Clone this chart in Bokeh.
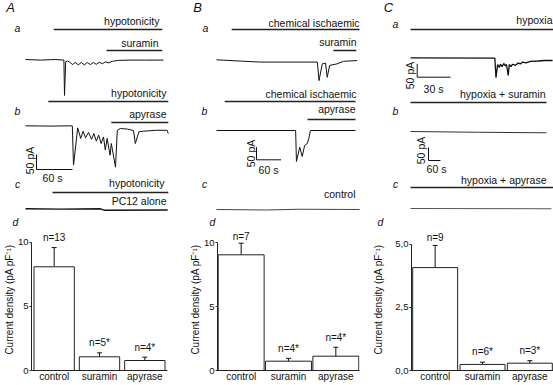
import numpy as np
from bokeh.plotting import figure
from bokeh.layouts import column, row
from bokeh.models import Range1d, FactorRange, FixedTicker, CustomJSTickFormatter
from bokeh.core.properties import value
from bokeh.embed import file_html
from bokeh.resources import INLINE

FONT = "Liberation Sans"
INK = "#111111"

# ---------------- DATA ----------------
# Whole-cell current traces: time (s) from start of trace, current (pA)
A_a_t = [0, 25, 50, 64, 65, 67, 70, 75, 78, 83, 88, 93, 98, 103, 108, 113, 118, 123, 128, 133, 138, 145, 155, 175, 200, 230]
A_a_I = [0, -2, 0, -2, -120, -7, -5, -10, -17, -10, -18, -10, -18, -10, -17, -10, -16, -9, -14, -8, -11, -6, -3, -2, -2, -2]

A_b_t = [0, 42, 78, 80, 87, 92, 96, 100, 105, 110, 114, 118, 122, 126, 130, 133, 136, 141, 143, 150, 153, 158, 170, 180, 183, 189, 197, 217, 236, 238]
A_b_I = [0, -1, 0, -131, -7, -42, -18, -40, -22, -45, -26, -51, -31, -59, -37, -81, -42, -98, -59, -138, -15, -9, -11, -16, -59, -20, -18, -15, -15, -26]

A_c_t = [0, 58, 125, 132, 237]
A_c_I = [0, -1, 0, -5, -4]

B_a_t = [0, 58, 107, 246, 250, 258, 266, 270, 276, 294, 310, 343]
B_a_I = [0, -5, -9, -9, -82, -16, -13, -69, -22, -16, -6, -3]

B_b_t = [0, 193, 195, 203, 209, 215, 221, 225, 229, 339]
B_b_I = [0, 0, -122, -66, -102, -59, -52, -33, 0, 0]

B_c_t = [0, 120, 200, 349]
B_c_I = [0, -2, 1, 0]

C_a_t = [0, 76, 77, 78.5, 80, 81, 82.5, 84, 85.5, 86.5, 88, 89, 90.5, 92, 94.5, 97, 99, 101, 104, 108, 115, 121, 128]
C_a_I = [0, -1, -74, -25, -36, -24, -33, -21, -30, -25, -66, -25, -33, -24, -28, -19, -23, -16, -19, -13, -12, -10, -10]

C_b_t = [0, 340, 680]
C_b_I = [0, -3, -5]

C_c_t = [0, 705]
C_c_I = [0, -1]

# Drug application periods (s, relative to each trace start) and labels
A_a_drugs = [("hypotonicity", 47, 228), ("suramin", 135, 228)]
A_b_drugs = [("hypotonicity", 38, 238), ("apyrase", 143, 238)]
A_c_drugs = [("hypotonicity", 45, 238)]
B_a_drugs = [("chemical ischaemic", 37, 349), ("suramin", 285, 341)]
B_b_drugs = [("chemical ischaemic", 20, 339), ("apyrase", 222, 339)]
C_a_drugs = [("hypoxia", 0, 129)]
C_b_drugs = [("hypoxia + suramin", 0, 680)]
C_c_drugs = [("hypoxia + apyrase", 0, 715)]

# Current density summary (pA pF-1)
categories = ["control", "suramin", "apyrase"]
A_mean = [8.1, 1.07, 0.78]
A_sem = [1.5, 0.31, 0.26]
A_n = ["n=13", "n=5*", "n=4*"]
B_mean = [9.06, 0.73, 1.12]
B_sem = [0.91, 0.22, 0.70]
B_n = ["n=7", "n=4*", "n=4*"]
C_mean = [4.08, 0.24, 0.29]
C_sem = [0.88, 0.09, 0.10]
C_n = ["n=9", "n=6*", "n=3*"]

# ---------------- LAYOUT (reference pixels, 1:1) ----------------
TOTAL_W = 553
TOP_H = 228
BOT_H = 157

# panel geometry: origin x, px per s, px per pA
PA = dict(x0=25, sx=0.6, sy=0.3)
PB = dict(x0=216, sx=0.41, sy=0.254)
PCa = dict(x0=410, sx=1.11, sy=0.268)
PCb = dict(x0=410, sx=0.2, sy=0.26)

traces = [
    (A_a_t, A_a_I, PA, 59.0, INK, 1.0),
    (A_b_t, A_b_I, PA, 125.3, INK, 1.0),
    (A_c_t, A_c_I, PA, 208.3, INK, 1.4),
    (B_a_t, B_a_I, PB, 59.3, INK, 1.0),
    (B_b_t, B_b_I, PB, 130.0, INK, 1.0),
    (B_c_t, B_c_I, PB, 209.0, "#444444", 1.0),
    (C_a_t, C_a_I, PCa, 57.3, INK, 1.3),
    (C_b_t, C_b_I, PCb, 131.0, "#333333", 1.0),
    (C_c_t, C_c_I, PCb, 208.0, "#555555", 1.0),
]

drug_rows = [
    (A_a_drugs, PA, [29, 50], [(159, 20), (158, 42)]),
    (A_b_drugs, PA, [101, 122], [(166, 92), (166, 113)]),
    (A_c_drugs, PA, [192], [(164, 182)]),
    (B_a_drugs, PB, [29, 50], [(359, 22), (356, 41)]),
    (B_b_drugs, PB, [101, 119], [(356, 93), (355, 108)]),
    (C_a_drugs, PCa, [29], [(552, 19)]),
    (C_b_drugs, PCb, [102], [(545, 93)]),
    (C_c_drugs, PCb, [187], [(546, 179)]),
]
extra_labels = [("PC12 alone", 166, 200), ("control", 355, 193)]

scale_bars = [
    (PA, (36, 169), 60, 50, "60 s", (52, 177), (29, 160)),
    (PB, (256, 159.3), 60, 50, "60 s", (268, 169), (250, 153)),
    (PCa, (416.7, 76.7), 30, 50, "30 s", (433, 88), (409.5, 75)),
    (PCb, (428, 160), 60, 50, "60 s", (436, 168), (420, 150)),
]

panel_letters = [("A", 10, 7), ("B", 197, 7), ("C", 388, 7)]
sub_letters = [("a", 17, 27), ("b", 17, 110), ("c", 17, 183), ("d", 15, 221.5),
               ("a", 205, 27), ("b", 204, 110), ("c", 204, 183), ("d", 212, 221.5),
               ("a", 395, 23), ("b", 395, 110), ("c", 395, 183), ("d", 380, 221.5)]

# ---------------- TOP FIGURE (traces) ----------------
top = figure(width=TOTAL_W, height=TOP_H, x_range=Range1d(0, TOTAL_W), y_range=Range1d(TOP_H, 0),
             x_axis_type=None, y_axis_type=None, toolbar_location=None, output_backend="svg",
             min_border=0, outline_line_color=None)
top.grid.visible = False

for t, I, P, y0, col, lw in traces:
    t = np.asarray(t, float)
    I = np.asarray(I, float)
    top.line(P["x0"] + t * P["sx"], y0 - I * P["sy"], line_color=col, line_width=lw)

tx, ty, tt = [], [], []
for drugs, P, ys, labpos in drug_rows:
    for (name, s0, s1), yb, (lx, ly) in zip(drugs, ys, labpos):
        top.line([P["x0"] + s0 * P["sx"], P["x0"] + s1 * P["sx"]], [yb, yb], line_color="#222222", line_width=1.4)
        tx.append(lx); ty.append(ly); tt.append(name)
for name, lx, ly in extra_labels:
    tx.append(lx); ty.append(ly); tt.append(name)
top.text(x=tx, y=ty, text=tt, text_align="right", text_baseline="middle",
         text_font=value(FONT), text_font_size="10.5px", text_color=INK)

sx_, sy_, st = [], [], []
rx, ry, rt = [], [], []
for P, (cx, cy), ts, pa, tl, (tlx, tly), (clx, cly) in scale_bars:
    top.line([cx + ts * P["sx"], cx, cx], [cy, cy, cy - pa * P["sy"]], line_color=INK, line_width=1.0)
    sx_.append(tlx); sy_.append(tly); st.append(tl)
    rx.append(clx); ry.append(cly); rt.append("50 pA")
top.text(x=sx_, y=sy_, text=st, text_align="center", text_baseline="middle",
         text_font=value(FONT), text_font_size="10.5px", text_color=INK)
top.text(x=rx, y=ry, text=rt, angle=np.pi / 2, text_align="center", text_baseline="middle",
         text_font=value(FONT), text_font_size="10.5px", text_color=INK)

top.text(x=[p[1] for p in panel_letters], y=[p[2] for p in panel_letters], text=[p[0] for p in panel_letters],
         text_align="center", text_baseline="middle", text_font=value(FONT), text_font_size="13px",
         text_font_style="italic", text_color=INK)
top.text(x=[p[1] for p in sub_letters], y=[p[2] for p in sub_letters], text=[p[0] for p in sub_letters],
         text_align="center", text_baseline="middle", text_font=value(FONT), text_font_size="10.5px",
         text_font_style="italic", text_color=INK)


# ---------------- BAR PANELS ----------------
def bar_panel(width, bl, br, means, sems, nlab, noff, y_end, ticks, bound, bar_w, lab_standoff, comma=False):
    p = figure(width=width, height=BOT_H, x_range=FactorRange(*categories, range_padding=0),
               y_range=Range1d(0, y_end), toolbar_location=None, output_backend="svg",
               min_border_left=bl, min_border_right=br, min_border_top=0, min_border_bottom=15,
               outline_line_color=None)
    p.grid.visible = False
    upper = [m + s for m, s in zip(means, sems)]
    p.segment(x0=categories, y0=means, x1=categories, y1=upper, line_color=INK, line_width=1)
    p.scatter(x=categories, y=upper, marker="dash", size=5, line_color=INK, line_width=1)
    p.vbar(x=categories, top=means, width=bar_w, fill_color="white", line_color="#222222", line_width=1)
    p.text(x=categories, y=upper, text=nlab, text_align="center", text_baseline="bottom", y_offset=noff,
           text_font=value(FONT), text_font_size="10px", text_color=INK)
    xa = p.xaxis[0]
    xa.major_tick_line_color = None
    xa.minor_tick_line_color = None
    xa.major_tick_out = 0
    xa.major_tick_in = 0
    xa.minor_tick_out = 0
    xa.minor_tick_in = 0
    xa.axis_label_standoff = 0
    xa.axis_line_color = "#222222"
    xa.major_label_standoff = 0
    xa.major_label_text_font = FONT
    xa.major_label_text_font_size = "10px"
    xa.major_label_text_line_height = 1.0
    xa.major_label_text_color = INK
    ya = p.yaxis[0]
    ya.ticker = FixedTicker(ticks=ticks)
    ya.bounds = bound
    ya.major_tick_out = 2
    ya.major_tick_in = 0
    ya.minor_tick_out = 0
    ya.minor_tick_in = 0
    ya.minor_tick_line_color = None
    ya.axis_line_color = "#222222"
    ya.major_tick_line_color = "#222222"
    ya.major_label_standoff = 1
    ya.major_label_text_font = FONT
    ya.major_label_text_font_size = "9.5px"
    ya.major_label_text_color = INK
    ya.axis_label = "Current density (pA pF\u207b\u00b9)"
    ya.axis_label_text_font = FONT
    ya.axis_label_text_font_size = "10px"
    ya.axis_label_text_font_style = "normal"
    ya.axis_label_text_color = INK
    ya.axis_label_standoff = lab_standoff
    if comma:
        ya.formatter = CustomJSTickFormatter(code="return tick.toFixed(1).replace('.', ',');")
    return p


bA = bar_panel(186, 25, 19, A_mean, A_sem, A_n, [-4.5, -4.5, -4.5], 11.09, [0, 5, 10], (0, 10), 0.89, 0)
bB = bar_panel(184, 29, 11, B_mean, B_sem, B_n, [-1.5, -4.5, -4.5], 11.12, [0, 5, 10], (0, 10), 0.97, 0)
bC = bar_panel(183, 40, 0, C_mean, C_sem, C_n, [-2.5, -5, -5], 5.63, [0, 2.5, 5], (0, 5), 0.95, 8, comma=True)

layout = column(top, row(bA, bB, bC, spacing=0), spacing=0)
open("out.html", "w").write(file_html(layout, INLINE))
